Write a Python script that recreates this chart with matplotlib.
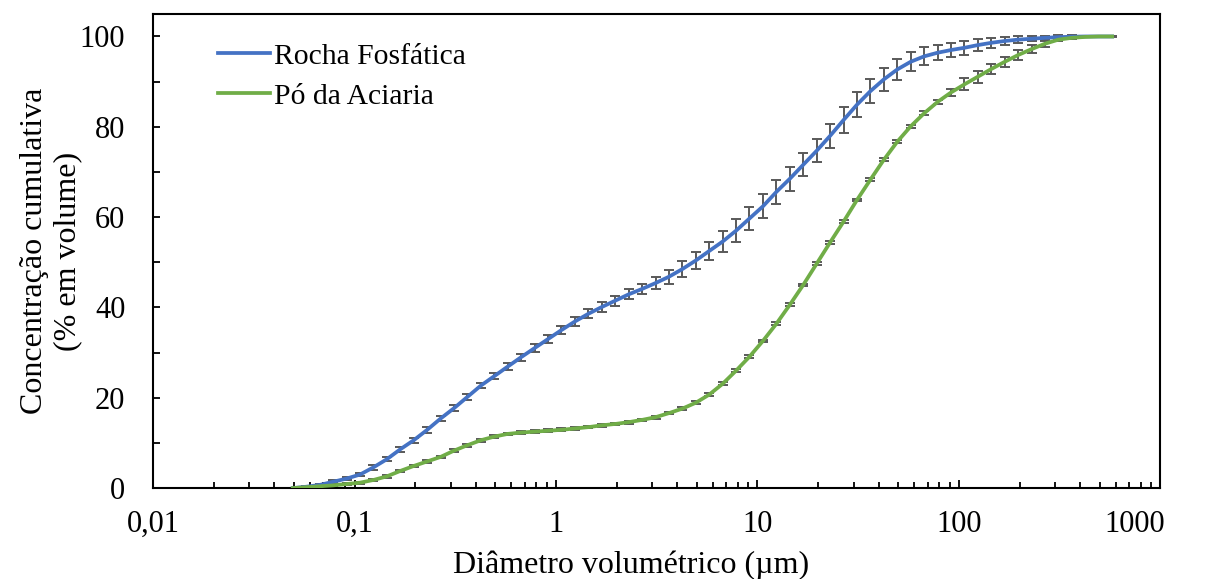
import matplotlib
matplotlib.use("Agg")
import matplotlib.pyplot as plt
import matplotlib.transforms as mtransforms
from matplotlib.ticker import LogLocator, NullFormatter, FixedLocator

# particle size classes (um)
diametro = [0.0494, 0.0576, 0.0672, 0.0783, 0.0913, 0.1065, 0.1242, 0.1448, 0.1688, 0.1968,
            0.2294, 0.2675, 0.3119, 0.3636, 0.4239, 0.4943, 0.576, 0.672, 0.783, 0.913,
            1.065, 1.242, 1.448, 1.688, 1.968, 2.294, 2.675, 3.119, 3.636, 4.239,
            4.943, 5.76, 6.72, 7.83, 9.13, 10.65, 12.42, 14.48, 16.88, 19.68,
            22.94, 26.75, 31.19, 36.36, 42.39, 49.43, 57.6, 67.2, 78.3, 91.3,
            106.5, 124.2, 144.8, 168.8, 196.8, 229.4, 267.5, 311.9, 363.6, 423.9,
            494.3, 576.0]

rocha = [0.0, 0.3, 0.7, 1.4, 2.1, 3.0, 4.6, 6.4, 8.6, 10.6,
         12.9, 15.4, 17.7, 20.2, 22.7, 24.8, 26.9, 29.0, 31.0, 33.0,
         35.0, 36.9, 38.6, 40.1, 41.5, 42.9, 44.1, 45.4, 46.8, 48.5,
         50.4, 52.5, 54.6, 57.0, 59.7, 62.4, 65.6, 68.5, 71.6, 74.7,
         78.0, 81.5, 84.9, 87.9, 90.5, 92.7, 94.4, 95.6, 96.4, 97.0,
         97.5, 98.1, 98.6, 99.0, 99.3, 99.5, 99.7, 99.85, 99.95, 100.0,
         100.0, 100.0]
rocha_err = [0.1, 0.2, 0.3, 0.3, 0.4, 0.4, 0.5, 0.5, 0.5, 0.6,
             0.6, 0.6, 0.6, 0.6, 0.6, 0.7, 0.7, 0.8, 0.8, 0.9,
             0.9, 1.0, 1.0, 1.0, 1.1, 1.1, 1.2, 1.3, 1.5, 1.7,
             1.9, 2.1, 2.3, 2.5, 2.6, 2.7, 2.7, 2.7, 2.6, 2.6,
             2.7, 2.8, 2.8, 2.7, 2.6, 2.4, 2.1, 2.0, 1.7, 1.5,
             1.5, 1.3, 1.1, 0.9, 0.8, 0.6, 0.5, 0.4, 0.3, 0.2,
             0.1, 0.0]

aciaria = [0.0, 0.2, 0.4, 0.6, 0.9, 1.2, 1.8, 2.6, 3.8, 4.9,
           5.9, 6.9, 8.3, 9.5, 10.6, 11.4, 12.0, 12.3, 12.5, 12.7,
           12.9, 13.2, 13.5, 13.9, 14.2, 14.6, 15.1, 15.7, 16.6, 17.6,
           18.9, 20.7, 23.1, 26.0, 29.1, 32.6, 36.4, 40.6, 45.0, 49.7,
           54.4, 59.0, 63.8, 68.3, 72.7, 76.7, 80.1, 83.0, 85.5, 87.6,
           89.4, 91.1, 92.8, 94.4, 95.9, 97.2, 98.4, 99.3, 99.7, 99.9,
           100.0, 100.0]
aciaria_err = [0.1, 0.1, 0.1, 0.2, 0.2, 0.2, 0.3, 0.3, 0.3, 0.3,
               0.3, 0.3, 0.3, 0.3, 0.3, 0.3, 0.3, 0.3, 0.3, 0.3,
               0.3, 0.3, 0.3, 0.3, 0.3, 0.3, 0.3, 0.3, 0.3, 0.3,
               0.3, 0.3, 0.3, 0.3, 0.3, 0.3, 0.3, 0.3, 0.3, 0.3,
               0.3, 0.3, 0.3, 0.3, 0.3, 0.3, 0.3, 0.4, 0.5, 0.8,
               1.3, 1.3, 1.2, 1.1, 1.0, 0.9, 0.7, 0.4, 0.2, 0.1,
               0.1, 0.1]

xticks = [0.01, 0.1, 1, 10, 100, 1000]
xtick_labels = ["0,01", "0,1", "1", "10", "100", "1000"]
yticks = [0, 20, 40, 60, 80, 100]
yminor = [10, 30, 50, 70, 90]

plt.rcParams["font.family"] = ["Liberation Serif", "DejaVu Serif"]
plt.rcParams["font.size"] = 22

fig = plt.figure(figsize=(12.05, 5.79), dpi=100)
ax = fig.add_axes([0.127, 0.157, 0.836, 0.819])

# error bars first, lines on top
ax.errorbar(diametro, rocha, yerr=rocha_err, fmt="none", ecolor="#595959",
            elinewidth=1.4, capsize=3.6, capthick=1.4, zorder=2)
ax.errorbar(diametro, aciaria, yerr=aciaria_err, fmt="none", ecolor="#595959",
            elinewidth=1.4, capsize=3.6, capthick=1.4, zorder=2)
ax.plot(diametro, rocha, color="#4472C4", lw=2.7, label="Rocha Fosfática", zorder=3)
ax.plot(diametro, aciaria, color="#70AD47", lw=2.7, label="Pó da Aciaria", zorder=3)

ax.set_xscale("log")
ax.set_xlim(0.01, 1000)
ax.set_ylim(0, 105)
ax.set_xticks(xticks)
ax.set_xticklabels(xtick_labels)
ax.xaxis.set_minor_locator(LogLocator(base=10, subs=range(2, 10), numticks=20))
ax.xaxis.set_minor_formatter(NullFormatter())
ax.set_yticks(yticks)
ax.yaxis.set_minor_locator(FixedLocator(yminor))

# all ticks point inward, like the Excel original
ax.tick_params(axis="x", which="major", direction="in", length=6, width=1.3, pad=16)
ax.tick_params(axis="x", which="minor", direction="in", length=4.5, width=1.3)
ax.tick_params(axis="y", which="both", direction="in", length=5, width=1.3, pad=20)
for s in ax.spines.values():
    s.set_linewidth(1.5)

# Excel keeps the last label inside the chart area
last = ax.get_xticklabels()[-1]
last.set_horizontalalignment("right")
last.set_transform(last.get_transform() + mtransforms.ScaledTranslation(0.05, 0, fig.dpi_scale_trans))

ax.set_xlabel("Diâmetro volumétrico (µm)", fontsize=23, labelpad=8)
ax.xaxis.label.set_x(0.475)  # centred on the chart area, not the plot area
ax.set_ylabel("Concentração cumulativa\n(% em volume)", fontsize=23, labelpad=-2)

ax.legend(loc="upper left", bbox_to_anchor=(0.038, 0.995), frameon=False,
          handlelength=1.75, handletextpad=0.15, labelspacing=0.45, fontsize=21.3)

plt.savefig("out.png", dpi=100)
